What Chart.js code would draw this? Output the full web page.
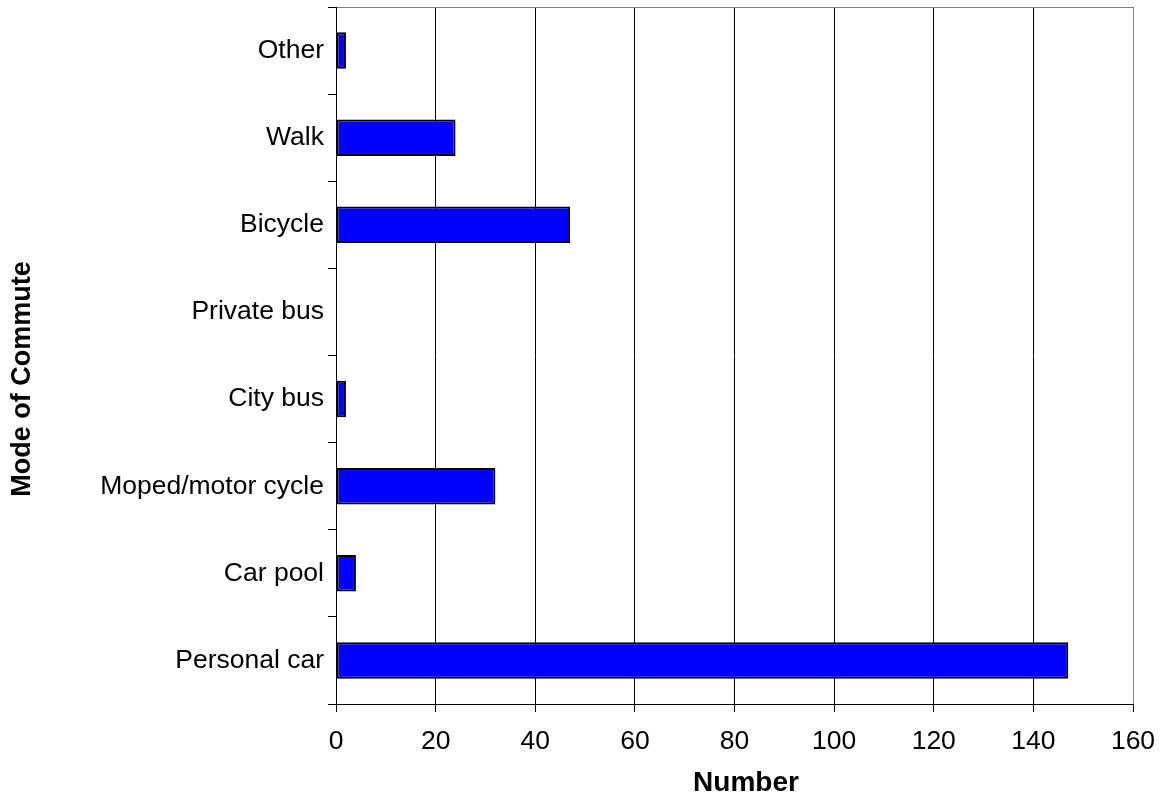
<!DOCTYPE html>
<html>
<head>
<meta charset="utf-8">
<title>Mode of Commute</title>
<script src="https://cdn.jsdelivr.net/npm/chart.js@4.4.1/dist/chart.umd.min.js"></script>
<style>
  html, body { margin: 0; padding: 0; background: #ffffff; }
  #wrap { width: 1165px; height: 799px; position: relative; }
</style>
</head>
<body>
<div id="wrap"><canvas id="chart"></canvas></div>
<script>
// categories listed top to bottom, as in the picture
const modes = ["Other", "Walk", "Bicycle", "Private bus", "City bus", "Moped/motor cycle", "Car pool", "Personal car"];
const counts = [2, 24, 47, 0, 2, 32, 4, 147];
const xTicks = [0, 20, 40, 60, 80, 100, 120, 140, 160];
const xTitle = "Number";
const yTitle = "Mode of Commute";

const FONT = "'Liberation Sans', Arial, sans-serif";

// axis titles sit a little off-centre in the original, so draw them by hand
const axisTitles = {
  id: "axisTitles",
  afterDraw(chart) {
    const ctx = chart.ctx;
    ctx.save();
    ctx.fillStyle = "#000";
    ctx.textAlign = "center";
    ctx.textBaseline = "middle";
    ctx.font = `bold 28px ${FONT}`;
    ctx.fillText(xTitle, 746, 783);
    ctx.translate(23, 379);
    ctx.rotate(-Math.PI / 2);
    ctx.font = `bold 27px ${FONT}`;
    ctx.fillText(yTitle, 0, 0);
    ctx.restore();
  },
};

new Chart(document.getElementById("chart"), {
  type: "bar",
  data: {
    labels: modes,
    datasets: [{
      label: xTitle,
      data: counts,
      backgroundColor: "#0000ff",
      borderColor: "#000000",
      borderWidth: 2,
      borderSkipped: false,
      categoryPercentage: 1,
      barPercentage: 0.42,
    }],
  },
  options: {
    indexAxis: "y",
    responsive: true,
    maintainAspectRatio: false,
    animation: false,
    layout: { padding: { left: 0, top: 7, right: 32, bottom: 0 } },
    plugins: { legend: { display: false }, tooltip: { enabled: false } },
    scales: {
      x: {
        min: xTicks[0],
        max: xTicks[xTicks.length - 1],
        afterBuildTicks: (scale) => { scale.ticks = xTicks.map((v) => ({ value: v })); },
        afterFit: (scale) => {
          scale.height = 95;
          scale.paddingLeft = 0;
          scale.paddingRight = 0;
        },
        ticks: { color: "#000", font: { family: FONT, size: 26.5 }, padding: 14, maxRotation: 0 },
        grid: {
          color: (ctx) => (ctx.index === xTicks.length - 1 ? "#808080" : "#000000"),
          tickColor: "#000000",
          tickLength: 8,
          lineWidth: 1,
        },
        border: { color: "#000000", width: 1 },
      },
      y: {
        afterFit: (scale) => {
          scale.width = 336;
          scale.paddingTop = 0;
          scale.paddingBottom = 0;
        },
        ticks: { color: "#000", font: { family: FONT, size: 26.5 }, padding: 4 },
        grid: {
          offset: true,
          color: (ctx) => (ctx.index === 0 ? "#808080" : "rgba(0,0,0,0)"),
          tickColor: "#000000",
          tickLength: 8,
          lineWidth: 1,
        },
        border: { color: "#000000", width: 1 },
      },
    },
  },
  plugins: [axisTitles],
});
</script>
</body>
</html>
